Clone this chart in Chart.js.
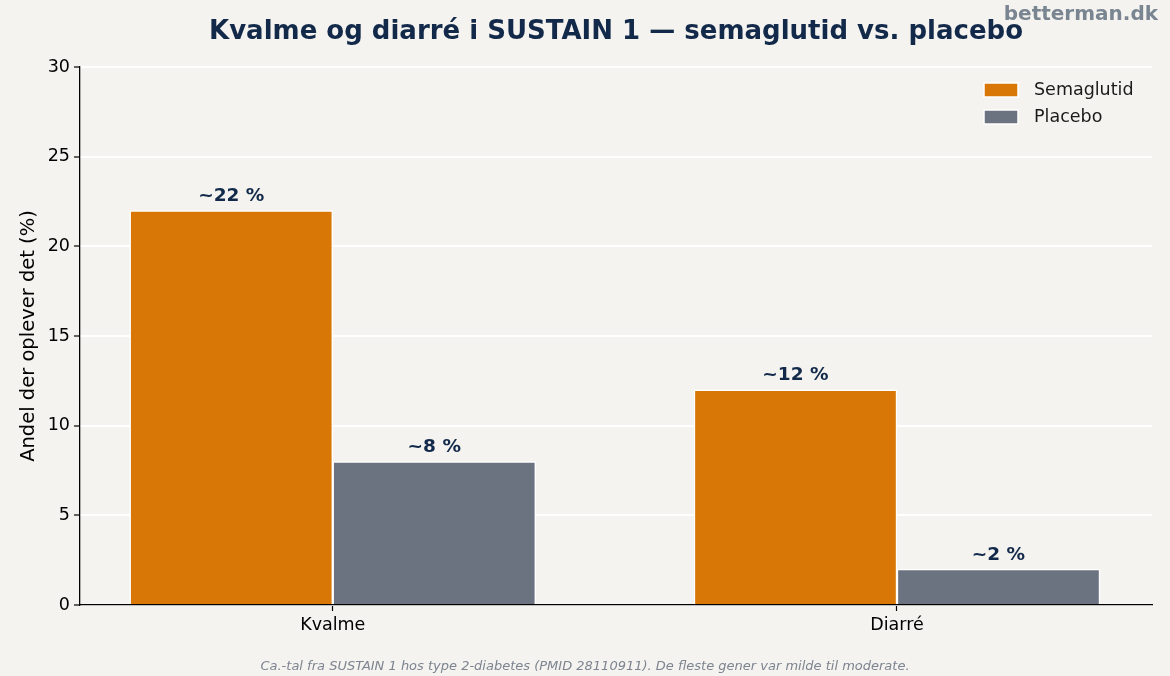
<!DOCTYPE html>
<html><head><meta charset="utf-8">
<script src="https://cdn.jsdelivr.net/npm/chart.js@4.4.1/dist/chart.umd.min.js"></script>
<style>html,body{margin:0;padding:0;background:#f4f3ef;}#wrap{width:1170px;height:676px;}</style>
</head><body><div id="wrap"><canvas id="c" width="1170" height="676"></canvas></div>
<script>
const categories = ["Kvalme", "Diarré"];
const semaglutid = [22, 12];
const placebo = [8, 2];
const semaLabels = ["~22 %", "~12 %"];
const placeboLabels = ["~8 %", "~2 %"];
const yTicks = [0, 5, 10, 15, 20, 25, 30];

const NAVY = '#12294a';
const BG = '#f4f3ef';
const ORANGE = '#d97706';
const GREY = '#6b7280';
const FONT = '"DejaVu Sans", sans-serif';

const bgPlugin = {
  id: 'bg',
  beforeDraw(chart) {
    const ctx = chart.ctx;
    ctx.save(); ctx.fillStyle = BG; ctx.fillRect(0, 0, chart.width, chart.height); ctx.restore();
  }
};

const decor = {
  id: 'decor',
  afterDraw(chart) {
    const ctx = chart.ctx;
    const ca = chart.chartArea;
    ctx.save();
    // title
    ctx.fillStyle = NAVY;
    ctx.font = 'bold 26px ' + FONT;
    ctx.textAlign = 'center'; ctx.textBaseline = 'middle';
    ctx.fillText('Kvalme og diarré i SUSTAIN 1 — semaglutid vs. placebo', (ca.left + ca.right) / 2, 32);
    // watermark
    ctx.fillStyle = '#7a8592';
    ctx.font = 'bold 20px ' + FONT;
    ctx.textAlign = 'right';
    ctx.fillText('betterman.dk', 1158, 15);
    // footer
    ctx.fillStyle = '#7d8490';
    ctx.font = 'italic 13px ' + FONT;
    ctx.textAlign = 'center';
    ctx.fillText('Ca.-tal fra SUSTAIN 1 hos type 2-diabetes (PMID 28110911). De fleste gener var milde til moderate.', 585, 667);
    // y axis title
    ctx.fillStyle = '#000';
    ctx.font = '19.5px ' + FONT;
    ctx.translate(29, (ca.top + ca.bottom) / 2);
    ctx.rotate(-Math.PI / 2);
    ctx.fillText('Andel der oplever det (%)', 0, 0);
    ctx.restore();

    // data labels
    ctx.save();
    ctx.fillStyle = NAVY;
    ctx.font = 'bold 18.5px ' + FONT;
    ctx.textAlign = 'center'; ctx.textBaseline = 'bottom';
    const lbls = [semaLabels, placeboLabels];
    chart.data.datasets.forEach((ds, di) => {
      const meta = chart.getDatasetMeta(di);
      meta.data.forEach((bar, i) => {
        ctx.fillText(lbls[di][i], bar.x, bar.y - 5);
      });
    });
    ctx.restore();

    // legend
    ctx.save();
    ctx.font = '17.5px ' + FONT;
    ctx.textBaseline = 'middle'; ctx.textAlign = 'left';
    chart.data.datasets.forEach((ds, di) => {
      const y = 90 + di * 27;
      ctx.fillStyle = ds.backgroundColor;
      ctx.fillRect(984, y - 7, 34, 14);
      ctx.strokeStyle = '#fff'; ctx.lineWidth = 1.5;
      ctx.strokeRect(984, y - 7, 34, 14);
      ctx.fillStyle = '#1a1a1a';
      ctx.fillText(ds.label, 1034, y);
    });
    ctx.restore();
  }
};

new Chart(document.getElementById('c'), {
  type: 'bar',
  data: {
    datasets: [
      { label: 'Semaglutid', data: semaglutid.map((v, i) => ({ x: i, y: v })), backgroundColor: ORANGE, borderColor: '#ffffff', borderWidth: 1.5, barThickness: 203 },
      { label: 'Placebo', data: placebo.map((v, i) => ({ x: i, y: v })), backgroundColor: GREY, borderColor: '#ffffff', borderWidth: 1.5, barThickness: 203 }
    ]
  },
  plugins: [bgPlugin, decor],
  options: {
    responsive: false,
    animation: false,
    devicePixelRatio: 1,
    layout: { padding: { left: 0, top: 67, right: 18, bottom: 0 } },
    plugins: { legend: { display: false }, tooltip: { enabled: false }, title: { display: false } },
    scales: {
      x: {
        type: 'linear',
        offset: false,
        min: -0.448, max: 1.452,
        afterBuildTicks(scale) { scale.ticks = categories.map((c, i) => ({ value: i })); },
        afterFit(scale) { scale.height = 71; },
        ticks: { callback: (v) => categories[v] ?? '', color: '#000', font: { family: 'DejaVu Sans', size: 17.5 }, padding: 4, maxRotation: 0, autoSkip: false },
        grid: { display: true, offset: false, drawOnChartArea: false, drawTicks: true, tickLength: 6, tickColor: '#000', tickWidth: 1.2 },
        border: { display: true, color: '#000', width: 1.3 }
      },
      y: {
        min: 0, max: 30,
        afterBuildTicks(scale) { scale.ticks = yTicks.map(v => ({ value: v })); },
        afterFit(scale) { scale.width = 80; },
        ticks: { color: '#000', font: { family: 'DejaVu Sans', size: 17.5 }, padding: 4 },
        grid: { color: '#ffffff', lineWidth: 2, drawTicks: true, tickLength: 6, tickColor: '#000', tickWidth: 1.2 },
        border: { display: true, color: '#000', width: 1.3 }
      }
    }
  }
});
</script>
</body></html>
